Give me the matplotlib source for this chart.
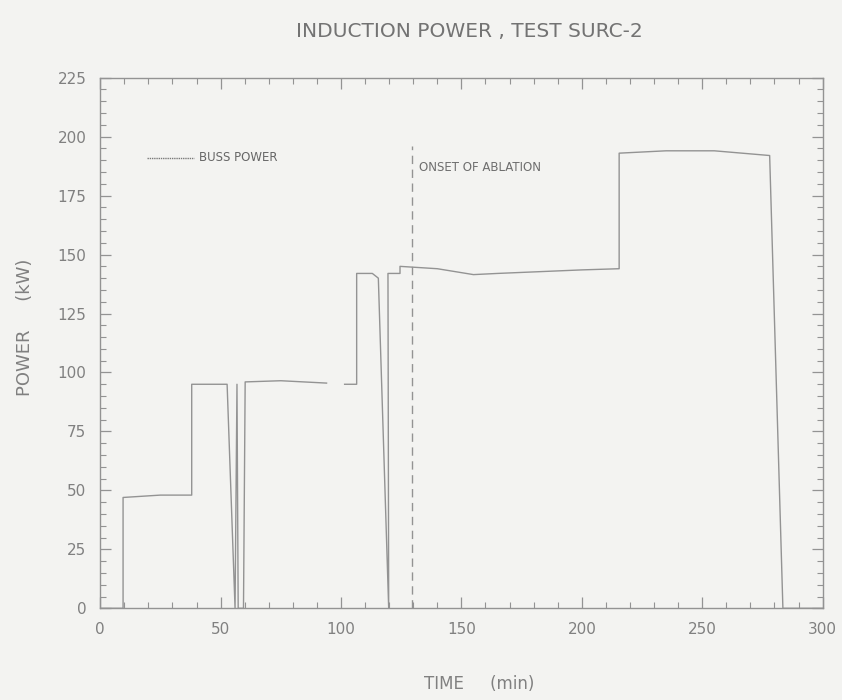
import matplotlib
matplotlib.use('Agg')
import matplotlib.pyplot as plt
import numpy as np
from matplotlib.ticker import MultipleLocator

plt.rcParams['font.family'] = ['DejaVu Sans']

# buss power trace (time in min, power in kW); NaN marks a gap in the record
time_min = [0, 9.5, 9.5, 25, 38, 38, 52.7, 56.0, 56.8, 57.3, 59.5, 60.2, 75, 94,
            np.nan, 101.5, 106.5, 106.5, 113, 115.5, 119.8, 119.5, 124.5, 124.5,
            140, 155, 165, 200, 215.5, 215.5, 235, 255, 278, 283.5, 300]
power_kw = [0, 0, 47, 48, 48, 95, 95, 0, 95, 0, 0, 96, 96.5, 95.5,
            np.nan, 95, 95, 142, 142, 140, 0, 142, 142, 145,
            144, 141.5, 142, 143.5, 144, 193, 194, 194, 192, 0, 0]

onset_time = 129.5
onset_top = 196

line_col = '#939393'
text_col = '#808080'
bg = '#f3f3f1'

fig = plt.figure(figsize=(8.42, 7.0), dpi=100, facecolor=bg)
ax = fig.add_axes([0.119, 0.131, 0.858, 0.758], facecolor=bg)

ax.plot(time_min, power_kw, color=line_col, lw=1.0)
ax.plot([onset_time, onset_time], [0, onset_top], color=line_col, lw=1.0,
        ls=(0, (6, 4)))
ax.text(onset_time + 3, 187, 'ONSET OF ABLATION', fontsize=8.5,
        color='#6e6e6e', va='center')

# legend drawn by hand: short line + label
ax.plot([19.5, 39], [191, 191], color='#7a7a7a', lw=1.0, ls=(0, (1, 0.6)))
ax.text(41, 191, 'BUSS POWER', fontsize=8.5, color='#666666', va='center')

ax.set_xlim(0, 300)
ax.set_ylim(0, 225)
ax.xaxis.set_major_locator(MultipleLocator(50))
ax.xaxis.set_minor_locator(MultipleLocator(10))
ax.yaxis.set_major_locator(MultipleLocator(25))
ax.yaxis.set_minor_locator(MultipleLocator(5))
ax.tick_params(which='both', direction='in', top=True, right=True,
               colors=line_col, labelcolor=text_col, labelsize=11)
ax.tick_params(which='major', length=8, width=0.9, pad=10)
ax.tick_params(which='minor', length=4, width=0.8)
for s in ax.spines.values():
    s.set_color(line_col)
    s.set_linewidth(1.0)

ax.set_xlabel('TIME     (min)', fontsize=12, color=text_col)
ax.xaxis.set_label_coords(0.524, -0.125)
ax.set_ylabel('POWER     (kW)', fontsize=13, color=text_col)
ax.yaxis.set_label_coords(-0.092, 0.53)
fig.text(0.558, 0.955, 'INDUCTION POWER , TEST SURC-2', fontsize=14.5,
         color='#737373', ha='center', va='center')

fig.savefig('out.png', dpi=100, facecolor=fig.get_facecolor())
